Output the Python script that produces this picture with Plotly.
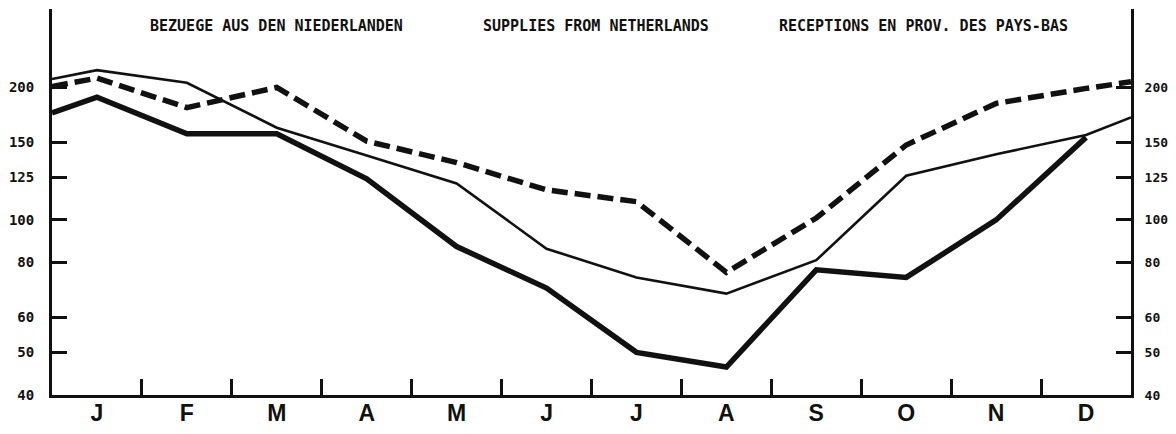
import plotly.graph_objects as go
import math

# ---- data ----
months = ["J", "F", "M", "A", "M", "J", "J", "A", "S", "O", "N", "D"]
# x positions: left edge (0), month centres (0.5..11.5), right edge (12)
x_pos = [0] + [i + 0.5 for i in range(12)] + [12]

thin_line = [209, 219, 205, 162, 140, 121, 86, 74, 68, 81, 126, 141, 156, 171]
thick_line = [175, 190, 157, 157, 124, 87, 70, 50, 46.3, 77, 74, 100, 154, None]
dashed_line = [201, 210, 180, 200, 151, 135, 117, 110, 76, 101, 148, 184, 199, 206]

y_ticks = [40, 50, 60, 80, 100, 125, 150, 200]
month_bounds = list(range(1, 12))
month_centres = [i + 0.5 for i in range(12)]

titles = ["BEZUEGE AUS DEN NIEDERLANDEN", "SUPPLIES FROM NETHERLANDS",
          "RECEPTIONS EN PROV. DES PAYS-BAS"]
title_x = [0.208, 0.504, 0.808]

y_range = [math.log10(40), math.log10(40) + 386 / 440]

fig = go.Figure()
fig.add_trace(go.Scatter(x=x_pos, y=thick_line, mode="lines",
                         line=dict(color="#111", width=5.5),
                         connectgaps=False, hoverinfo="skip", showlegend=False))
fig.add_trace(go.Scatter(x=x_pos, y=thin_line, mode="lines",
                         line=dict(color="#111", width=2.6),
                         hoverinfo="skip", showlegend=False))
fig.add_trace(go.Scatter(x=x_pos, y=dashed_line, mode="lines",
                         line=dict(color="#111", width=5.5, dash="16px,7px"),
                         hoverinfo="skip", showlegend=False))
# helper traces so the secondary axes get drawn
fig.add_trace(go.Scatter(x=[6], y=[100], xaxis="x2", yaxis="y", mode="markers",
                         marker=dict(opacity=0), hoverinfo="skip", showlegend=False))
fig.add_trace(go.Scatter(x=[6], y=[100], xaxis="x", yaxis="y2", mode="markers",
                         marker=dict(opacity=0), hoverinfo="skip", showlegend=False))

tick_font = dict(family="DejaVu Sans Mono", size=14, color="#111", weight="bold")
tick_font_r = dict(family="DejaVu Sans Mono", size=13, color="#111", weight="bold")

fig.update_layout(
    width=1160, height=418,
    margin=dict(l=44, r=37, t=1, b=31, autoexpand=False),
    paper_bgcolor="white", plot_bgcolor="white",
    xaxis=dict(range=[0, 12], tickvals=month_bounds, ticks="inside", ticklen=16,
               tickwidth=2.5, tickcolor="#111", showticklabels=False,
               showline=True, linewidth=3, linecolor="#111",
               showgrid=False, zeroline=False, automargin=False),
    xaxis2=dict(range=[0, 12], overlaying="x", side="bottom", tickvals=month_centres,
                ticktext=months, ticks="", showline=False, showgrid=False,
                zeroline=False, ticklabelstandoff=2, automargin=False,
                tickfont=dict(family="Liberation Sans", size=23, color="#111", weight="bold")),
    yaxis=dict(type="log", range=y_range, tickvals=y_ticks,
               ticktext=[str(v) for v in y_ticks], ticks="inside", ticklen=15,
               tickwidth=2.5, tickcolor="#111", showline=True, linewidth=3,
               linecolor="#111", showgrid=False, zeroline=False, automargin=False,
               ticklabelstandoff=12, tickfont=tick_font),
    yaxis2=dict(type="log", range=y_range, overlaying="y", side="right",
                tickvals=y_ticks, ticktext=[str(v) for v in y_ticks],
                ticks="inside", ticklen=15, tickwidth=2.5, tickcolor="#111",
                showline=True, linewidth=3, linecolor="#111", showgrid=False,
                zeroline=False, automargin=False, ticklabelstandoff=8,
                tickfont=tick_font_r),
)

for t, xp in zip(titles, title_x):
    fig.add_annotation(text=t, x=xp, y=0.956, xref="paper", yref="paper",
                       showarrow=False, xanchor="center", yanchor="middle",
                       font=dict(family="DejaVu Sans Mono", size=15, color="#111",
                                 weight="bold"))

fig.write_html("out.html")
